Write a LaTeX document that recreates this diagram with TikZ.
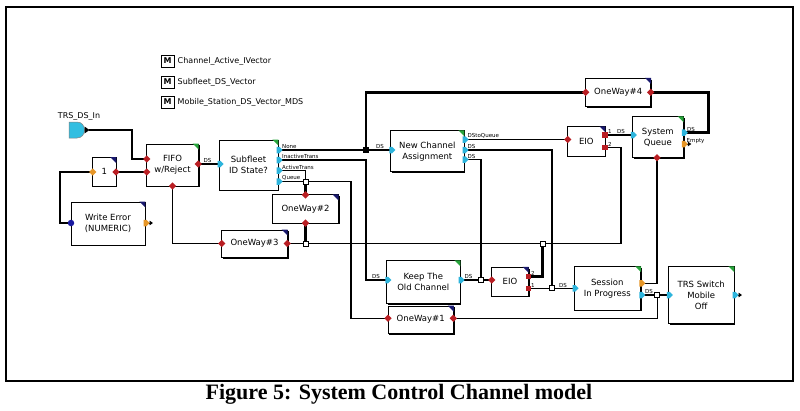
\documentclass[tikz,border=0pt]{standalone}
\usepackage{fontspec}
\setmainfont{DejaVu Sans}
\newfontfamily\capfont{Liberation Serif}
\usetikzlibrary{shapes.geometric,shapes.symbols,shadows,arrows.meta,calc}
\definecolor{pred}{RGB}{185,30,35}
\definecolor{pcyan}{RGB}{45,180,220}
\definecolor{porange}{RGB}{230,150,40}
\definecolor{pblue}{RGB}{25,25,160}
\definecolor{cgreen}{RGB}{40,165,60}
\definecolor{cnavy}{RGB}{25,25,110}
\definecolor{incyan}{RGB}{50,190,225}
\tikzset{
  blk/.style={draw=black, line width=0.8pt, fill=white, align=center,
    font=\fontsize{8.5}{11}\selectfont, inner sep=1pt,
    drop shadow={shadow xshift=1.3pt, shadow yshift=-1.3pt, opacity=1, fill=black}},
  conn/.style={line width=1.2pt},
  thk/.style={line width=2.6pt},
  pdia/.style={diamond, draw=none, inner sep=0pt, minimum size=7.5pt},
  psig/.style={signal, signal to=east, draw=none, inner sep=0pt, minimum width=6pt, minimum height=6.5pt},
  psq/.style={rectangle, draw=none, inner sep=0pt, minimum size=5.5pt},
  jn/.style={rectangle, draw=black, fill=white, line width=0.9pt, inner sep=0pt, minimum size=5pt},
  plab/.style={font=\fontsize{5.5}{6}\selectfont, inner sep=0.5pt},
  mbox/.style={draw=black, line width=0.9pt, minimum width=13pt, minimum height=12pt, inner sep=0pt, font=\bfseries\fontsize{8}{8}\selectfont},
  legtxt/.style={anchor=west, inner sep=0pt, font=\fontsize{8}{9}\selectfont},
  outarr/.style={line width=1pt, -{Triangle[length=3.5pt,width=4.5pt]}}
}
\newcommand\crn[2]{\fill[#2] (#1.north east) -- ++(-6,0) -- ++(6,6) -- cycle;}
\newcommand\pd[2]{\node[pdia,fill=#1] at (#2) {};}
\newcommand\ps[2]{\node[psig,fill=#1] at (#2) {};}
\newcommand\pq[2]{\node[psq,fill=#1] at (#2) {};}
\begin{document}
\begin{tikzpicture}[x=1pt,y=-1pt]
\useasboundingbox[fill=white] (0,0) rectangle (800,410);
\draw[line width=2pt] (6,7) rectangle (793,381);
% legend
\node[mbox] (m1) at (167.7,61) {M};
\node[legtxt] (l1) at (177.5,61) {Channel\_Active\_IVector};
\node[mbox] (m2) at (167.7,82) {M};
\node[legtxt] (l2) at (177.5,82) {Subfleet\_DS\_Vector};
\node[mbox] (m3) at (167.7,102) {M};
\node[legtxt] (l3) at (177.5,102) {Mobile\_Station\_DS\_Vector\_MDS};
% input
\node[font=\fontsize{8}{9}\selectfont, inner sep=0pt] (inlab) at (79,116) {TRS\_DS\_In};
\draw[fill=incyan, draw=black!50, line width=0.5pt] (69,122) -- (77,122) .. controls (87,122) and (87,138) .. (77,138) -- (69,138) -- cycle;
\fill (84.5,126.5) -- (89.5,130) -- (84.5,133.5) -- cycle;
\coordinate (trsin) at (89,130);
% blocks
\node[blk, minimum width=51.6, minimum height=42] (fifo) at (172.5,165) {FIFO\\w/Reject};
\node[blk, minimum width=23.3, minimum height=28.5] (one) at (104.3,171.8) {1};
\node[blk, minimum width=74, minimum height=43] (werr) at (108,223.5) {Write Error\\(NUMERIC)};
\node[blk, minimum width=59, minimum height=50] (sub) at (248.5,165) {Subfleet\\ID State?};
\node[blk, minimum width=65.6, minimum height=28.3] (ow2) at (305.5,209) {OneWay\#2};
\node[blk, minimum width=65.6, minimum height=27.3] (ow3) at (254.5,243.7) {OneWay\#3};
\node[blk, minimum width=73.3, minimum height=41] (nca) at (427.3,151.2) {New Channel\\Assignment};
\node[blk, minimum width=65, minimum height=28.4] (ow4) at (618.2,92.5) {OneWay\#4};
\node[blk, minimum width=37.3, minimum height=29.3] (eio1) at (586.3,141.3) {EIO};
\node[blk, minimum width=51, minimum height=41] (sq) at (657.8,137.2) {System\\Queue};
\node[blk, minimum width=73.3, minimum height=42.6] (keep) at (423.3,282) {Keep The\\Old Channel};
\node[blk, minimum width=65.3, minimum height=27.3] (ow1) at (420.7,319.7) {OneWay\#1};
\node[blk, minimum width=36.6, minimum height=28.7] (eio2) at (510,281.7) {EIO};
\node[blk, minimum width=66.7, minimum height=43.3] (sip) at (607.3,288.3) {Session\\In Progress};
\node[blk, minimum width=65.7, minimum height=56.6] (trs) at (701.2,295) {TRS Switch\\Mobile\\Off};
% corner marks
\crn{fifo}{cgreen}\crn{sub}{cgreen}\crn{nca}{cgreen}\crn{sq}{cgreen}
\crn{keep}{cgreen}\crn{sip}{cgreen}\crn{trs}{cgreen}
\crn{one}{cnavy}\crn{werr}{cnavy}\crn{ow1}{cnavy}\crn{ow2}{cnavy}
\crn{ow3}{cnavy}\crn{ow4}{cnavy}\crn{eio1}{cnavy}\crn{eio2}{cnavy}
% port coordinates
\coordinate (fifo-i1) at (146.7,159);
\coordinate (fifo-i2) at (146.7,172);
\coordinate (fifo-o) at (198.3,164);
\coordinate (fifo-b) at (172.5,186);
\coordinate (one-i) at (92.7,172);
\coordinate (one-o) at (116,172);
\coordinate (werr-i) at (71,223);
\coordinate (werr-o) at (145,223);
\coordinate (sub-i) at (219,164);
\coordinate (sub-none) at (278,150);
\coordinate (sub-inact) at (278,160);
\coordinate (sub-act) at (278,170.5);
\coordinate (sub-q) at (278,181.5);
\coordinate (ow2-t) at (305.5,194.9);
\coordinate (ow2-b) at (305.5,223.1);
\coordinate (ow3-i) at (221.7,243.5);
\coordinate (ow3-o) at (287.3,243.5);
\coordinate (nca-i) at (390.7,150);
\coordinate (nca-o1) at (464,139.5);
\coordinate (nca-o2) at (464,150);
\coordinate (nca-o3) at (464,159.5);
\coordinate (ow4-i) at (585.7,92.3);
\coordinate (ow4-o) at (650.7,92.3);
\coordinate (eio1-i) at (567.7,139.5);
\coordinate (eio1-o1) at (605,135);
\coordinate (eio1-o2) at (605,147.7);
\coordinate (sq-i) at (632.3,135);
\coordinate (sq-ds) at (683.3,132.7);
\coordinate (sq-em) at (683.3,144);
\coordinate (sq-b) at (657,157.7);
\coordinate (keep-i) at (386.7,280);
\coordinate (keep-o) at (460,280);
\coordinate (ow1-i) at (388,318.3);
\coordinate (ow1-o) at (453.3,318.3);
\coordinate (eio2-i) at (491.7,280);
\coordinate (eio2-o2) at (528.3,276.7);
\coordinate (eio2-o1) at (528.3,288.3);
\coordinate (sip-i) at (574,288.3);
\coordinate (sip-or) at (640.7,283.3);
\coordinate (sip-ds) at (640.7,295);
\coordinate (trs-i) at (668.3,295);
\coordinate (trs-o) at (734,295);
% junctions
\node[jn, fill=black] (j1) at (366,150) {};
\node[jn] (j2) at (305.5,181.5) {};
\node[jn] (j3) at (305.5,243.5) {};
\node[jn] (j4) at (542.5,243.5) {};
\node[jn] (j5) at (481,280) {};
\node[jn] (j6) at (552,288.3) {};
\node[jn] (j7) at (657.3,295) {};
% connectors
\draw[conn] (trsin) -| (132,159) -- (fifo-i1);
\draw[conn] (fifo-i2) -- (one-o);
\draw[conn] (one-i) -| (60,223) -- (werr-i);
\draw[conn] (fifo-o) -- (sub-i);
\draw[conn] (fifo-b) |- (ow3-i);
\draw[conn] (ow3-o) -- (j3);
\draw[conn] (sub-none) -- (j1) -- (nca-i);
\draw[thk] (j1) |- (ow4-i);
\draw[thk] (ow4-o) -| (708.3,132.7) -- (sq-ds);
\draw[conn] (sub-inact) -| (366,280) -- (keep-i);
\draw[conn] (sub-act) -| (j2);
\draw[conn] (sub-q) -- (j2);
\draw[conn] (j2) -| (351,318.3) -- (ow1-i);
\draw[thk] (j2) -- (ow2-t);
\draw[thk] (ow2-b) -- (j3);
\draw[conn] (j3) -- (j4);
\draw[conn] (j4) -| (621,147.7) -- (eio1-o2);
\draw[thk] (eio2-o2) -| (j4);
\draw[conn] (nca-o1) -- (eio1-i);
\draw[conn] (nca-o2) -| (j6);
\draw[conn] (nca-o3) -| (j5);
\draw[conn] (keep-o) -- (j5) -- (eio2-i);
\draw[conn] (eio2-o1) -- (j6) -- (sip-i);
\draw[conn] (eio1-o1) -- (sq-i);
\draw[conn] (sq-b) |- (sip-or);
\draw[conn] (sip-ds) -- (j7) -- (trs-i);
\draw[conn] (ow1-o) -| (j7);
% output arrows
\draw[outarr] (werr-o) -- ++(8,0);
\draw[outarr] (trs-o) -- ++(8,0);
\draw[outarr] (sq-em) -- ++(8,0);
% ports
\pd{pred}{fifo-i1}\pd{pred}{fifo-i2}\pd{pred}{fifo-o}\pd{pred}{fifo-b}
\pd{pred}{one-o}\pd{pred}{ow2-t}\pd{pred}{ow2-b}\pd{pred}{ow3-i}\pd{pred}{ow3-o}
\pd{pred}{ow4-i}\pd{pred}{ow4-o}\pd{pred}{eio1-i}\pd{pred}{sq-b}\pd{pred}{eio2-i}
\pd{pred}{ow1-i}\pd{pred}{ow1-o}
\pq{pred}{eio1-o1}\pq{pred}{eio1-o2}\pq{pred}{eio2-o1}\pq{pred}{eio2-o2}
\ps{pcyan}{sub-i}\ps{pcyan}{sub-none}\ps{pcyan}{sub-inact}\ps{pcyan}{sub-act}\ps{pcyan}{sub-q}
\ps{pcyan}{nca-i}\ps{pcyan}{nca-o1}\ps{pcyan}{nca-o2}\ps{pcyan}{nca-o3}
\ps{pcyan}{sq-i}\ps{pcyan}{sq-ds}\ps{pcyan}{keep-i}\ps{pcyan}{keep-o}
\ps{pcyan}{sip-i}\ps{pcyan}{sip-ds}\ps{pcyan}{trs-i}\ps{pcyan}{trs-o}
\ps{porange}{werr-o}\ps{porange}{sq-em}\ps{porange}{sip-or}
\node[pdia,fill=porange] at (one-i) {};
\node[circle,fill=pblue,inner sep=0pt,minimum size=6.5pt] at (werr-i) {};
% port labels
\node[plab, anchor=south] at (207.5,163) {DS};
\node[plab, anchor=south west] at (281.5,149.5) {None};
\node[plab, anchor=south west] at (281.5,159.5) {InactiveTrans};
\node[plab, anchor=south west] at (281.5,170) {ActiveTrans};
\node[plab, anchor=south west] at (281.5,181) {Queue};
\node[plab, anchor=south] at (380,149.5) {DS};
\node[plab, anchor=south west] at (467,139) {DStoQueue};
\node[plab, anchor=south west] at (467,149.5) {DS};
\node[plab, anchor=south west] at (467,159) {DS};
\node[plab, anchor=south west] at (607.5,134.5) {1};
\node[plab, anchor=south] at (621,134.5) {DS};
\node[plab, anchor=south west] at (607.5,147.2) {2};
\node[plab, anchor=south west] at (686.5,132.2) {DS};
\node[plab, anchor=west] at (686,141) {Empty};
\node[plab, anchor=south] at (376,279.5) {DS};
\node[plab, anchor=south] at (468.5,279.5) {DS};
\node[plab, anchor=south west] at (530.5,276.2) {2};
\node[plab, anchor=south west] at (530.5,287.8) {1};
\node[plab, anchor=south] at (563,287.8) {DS};
\node[plab, anchor=south] at (649,294.5) {DS};
% caption
\node[font=\capfont\bfseries\fontsize{22}{24}\selectfont, inner sep=0pt, anchor=base] (cap) at (399,399) {Figure 5: System Control Channel model};
\end{tikzpicture}
\end{document}
